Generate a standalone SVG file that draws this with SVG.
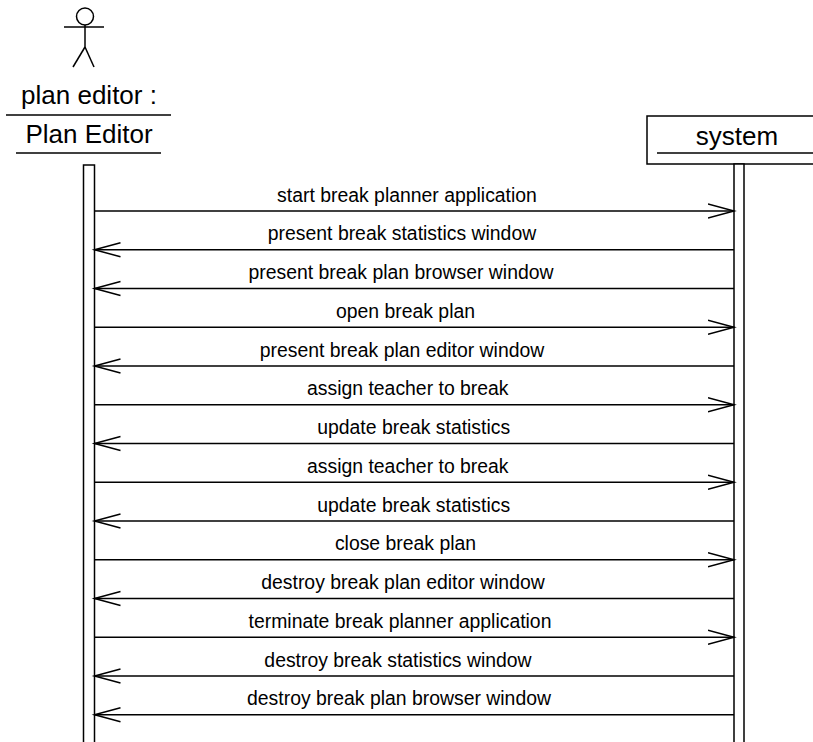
<svg xmlns="http://www.w3.org/2000/svg" width="813" height="742" viewBox="0 0 813 742">
<style>
.ln{stroke:#000;stroke-width:1.5;fill:none}
.box{stroke:#000;stroke-width:1.5;fill:#fff}
.msg{font-family:"Liberation Sans",Arial,sans-serif;font-size:19.4px;fill:#000;text-anchor:middle}
.name{font-family:"Liberation Sans",Arial,sans-serif;font-size:26px;fill:#000;text-anchor:middle}
</style>
<defs>
<marker id="arr" markerUnits="userSpaceOnUse" markerWidth="30" markerHeight="18" refX="26" refY="8" orient="auto">
<path d="M0,1 L26,8 L0,15" fill="none" stroke="#000" stroke-width="1.5"/>
</marker>
</defs>
<rect width="813" height="742" fill="#fff"/>
<g id="actor-plan-editor">
<circle class="ln" cx="85" cy="16.5" r="8.5"/>
<line class="ln" x1="64" y1="27" x2="104" y2="27"/>
<line class="ln" x1="85" y1="25" x2="85" y2="47"/>
<line class="ln" x1="85" y1="47" x2="73" y2="67"/>
<line class="ln" x1="85" y1="47" x2="94" y2="67"/>
<text class="name" x="89" y="104">plan editor :</text>
<line class="ln" x1="6" y1="115" x2="171" y2="115"/>
<text class="name" x="89" y="143">Plan Editor</text>
<line class="ln" x1="16" y1="153" x2="161" y2="153"/>
<rect class="box" x="83.5" y="165" width="11" height="590"/>
</g>
<g id="system">
<rect class="box" x="647" y="116" width="190" height="48"/>
<text class="name" x="737" y="145">system</text>
<line class="ln" x1="657" y1="153" x2="813" y2="153"/>
<rect class="box" x="734" y="164" width="10" height="590"/>
</g>
<g id="connectors">
<line class="ln" x1="94.5" y1="211" x2="734" y2="211" marker-end="url(#arr)"/>
<text class="msg" x="407" y="201.5">start break planner application</text>
<line class="ln" x1="734" y1="249.75" x2="94.5" y2="249.75" marker-end="url(#arr)"/>
<text class="msg" x="402" y="240.25">present break statistics window</text>
<line class="ln" x1="734" y1="288.5" x2="94.5" y2="288.5" marker-end="url(#arr)"/>
<text class="msg" x="401" y="279">present break plan browser window</text>
<line class="ln" x1="94.5" y1="327.25" x2="734" y2="327.25" marker-end="url(#arr)"/>
<text class="msg" x="405.5" y="317.75">open break plan</text>
<line class="ln" x1="734" y1="366" x2="94.5" y2="366" marker-end="url(#arr)"/>
<text class="msg" x="402" y="356.5">present break plan editor window</text>
<line class="ln" x1="94.5" y1="404.75" x2="734" y2="404.75" marker-end="url(#arr)"/>
<text class="msg" x="407.8" y="395.25">assign teacher to break</text>
<line class="ln" x1="734" y1="443.5" x2="94.5" y2="443.5" marker-end="url(#arr)"/>
<text class="msg" x="413.7" y="434">update break statistics</text>
<line class="ln" x1="94.5" y1="482.25" x2="734" y2="482.25" marker-end="url(#arr)"/>
<text class="msg" x="407.8" y="472.75">assign teacher to break</text>
<line class="ln" x1="734" y1="521" x2="94.5" y2="521" marker-end="url(#arr)"/>
<text class="msg" x="413.7" y="511.5">update break statistics</text>
<line class="ln" x1="94.5" y1="559.75" x2="734" y2="559.75" marker-end="url(#arr)"/>
<text class="msg" x="405.5" y="550.25">close break plan</text>
<line class="ln" x1="734" y1="598.5" x2="94.5" y2="598.5" marker-end="url(#arr)"/>
<text class="msg" x="403" y="589">destroy break plan editor window</text>
<line class="ln" x1="94.5" y1="637.25" x2="734" y2="637.25" marker-end="url(#arr)"/>
<text class="msg" x="400" y="627.75">terminate break planner application</text>
<line class="ln" x1="734" y1="676" x2="94.5" y2="676" marker-end="url(#arr)"/>
<text class="msg" x="398" y="666.5">destroy break statistics window</text>
<line class="ln" x1="734" y1="714.75" x2="94.5" y2="714.75" marker-end="url(#arr)"/>
<text class="msg" x="399" y="705.25">destroy break plan browser window</text>
</g>
</svg>
